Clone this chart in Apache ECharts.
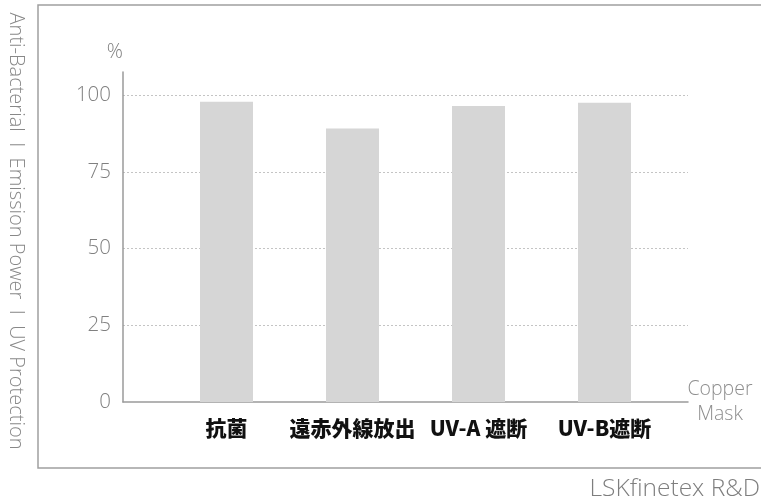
<!DOCTYPE html>
<html><head><meta charset="utf-8">
<script src="https://cdn.jsdelivr.net/npm/echarts@6/dist/echarts.min.js"></script>
<style>html,body{margin:0;padding:0;background:#fff}#c{width:761px;height:504px}</style>
</head><body><div id="c"></div>
<script>
const categories = ['抗菌', '遠赤外線放出', 'UV-A 遮断', 'UV-B遮断'];
const values = [97.8, 89.1, 96.4, 97.5];
const yTicks = [0, 25, 50, 75, 100];
const yUnit = '%';
const xName = 'Copper\nMask';
const sideTitle = 'Anti-Bacterial  I  Emission Power  I  UV Protection';
const credit = 'LSKfinetex R&D';

const thin = "'Open Sans', 'Noto Sans', sans-serif";
const chart = echarts.init(document.getElementById('c'), null, {renderer: 'canvas'});
const gridTop = 72, gridBottom = 504 - 402;
chart.setOption({
  animation: false,
  backgroundColor: '#fff',
  graphic: [
    {type: 'rect', shape: {x: 38, y: 5, width: 800, height: 463},
     style: {fill: 'none', stroke: '#a0a0a0', lineWidth: 1.5}, z: 0},
    {type: 'text', x: 16, y: 231, rotation: -Math.PI / 2,
     style: {text: sideTitle, font: "300 20px 'Open Sans', sans-serif", fill: '#888', align: 'center', verticalAlign: 'middle'}}
  ],
  title: {text: credit, right: 1, top: 477, padding: 0,
    textStyle: {fontFamily: thin, fontWeight: 300, fontSize: 24.5, color: '#7e7e7e'}},
  grid: [
    {left: 123, right: 761 - 688, top: gridTop, bottom: gridBottom},
    {left: 163.5, right: 761 - 667.5, top: gridTop, bottom: gridBottom}
  ],
  xAxis: [
    {type: 'value', gridIndex: 0, min: 0, max: 1, show: true,
     axisLine: {show: true, onZero: false, lineStyle: {color: '#9a9a9a', width: 1.5}},
     axisTick: {show: false}, axisLabel: {show: false}, splitLine: {show: false},
     name: xName, nameLocation: 'end', nameGap: 32,
     nameTextStyle: {fontFamily: thin, fontWeight: 300, fontSize: 19.5, color: '#8e8e8e', align: 'center', verticalAlign: 'middle', lineHeight: 25, padding: [12, 0, 0, 0]}},
    {type: 'category', gridIndex: 1, data: categories,
     axisLine: {show: false}, axisTick: {show: false},
     axisLabel: {margin: 16, fontSize: 21, fontWeight: 900, color: '#111',
       fontFamily: "'Noto Sans CJK JP', 'Noto Sans', sans-serif", interval: 0}}
  ],
  yAxis: [
    {type: 'value', gridIndex: 0, min: 0, max: 107.5, interval: 25,
     axisLine: {show: true, lineStyle: {color: '#9a9a9a', width: 1.5}},
     axisTick: {show: false},
     axisLabel: {margin: 12, fontSize: 20.5, fontWeight: 300, fontFamily: thin, color: '#808080',
       formatter: v => (yTicks.indexOf(v) >= 0 ? String(v) : '')},
     splitLine: {show: true, lineStyle: {type: [2, 2], width: 1,
       color: ['rgba(0,0,0,0)', '#c4c4c4', '#c4c4c4', '#c4c4c4', '#c4c4c4', 'rgba(0,0,0,0)']}},
     name: yUnit, nameLocation: 'end', nameGap: 20,
     nameTextStyle: {fontFamily: thin, fontWeight: 300, fontSize: 20, color: '#808080', align: 'right', verticalAlign: 'middle'}},
    {type: 'value', gridIndex: 1, min: 0, max: 107.5, show: false}
  ],
  series: [{
    type: 'bar', xAxisIndex: 1, yAxisIndex: 1, data: values, barWidth: 53,
    itemStyle: {color: '#d6d6d6'}, z: 1
  }]
});
</script></body></html>
